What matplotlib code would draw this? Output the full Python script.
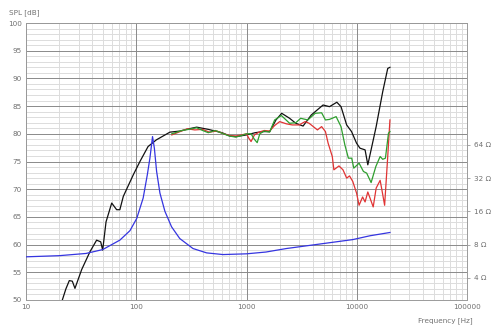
import matplotlib
matplotlib.use('Agg')
import matplotlib.pyplot as plt
from matplotlib.ticker import FixedLocator, NullFormatter, NullLocator

# ---------------- data ----------------
black_f = [20, 21.2, 23, 24.7, 26.3, 27.8, 32, 38, 43.7, 47.6, 49.6, 53.2, 59.9, 66.4, 71,
           76.3, 94, 108, 128, 152, 202, 250, 300, 353, 450, 600, 705,
           809, 1000, 1200, 1415, 1625, 1850, 2086, 2460, 2800, 3260, 3870, 4200, 4950,
           5660, 6600, 7200, 8100, 8970, 9960, 10700, 11900, 12600, 15000, 17200, 19100, 20000]
black_spl = [48.5, 49.8, 52, 53.5, 53.4, 52.1, 55.5, 58.7, 60.8, 60.5, 59.0, 64.1, 67.5, 66.3, 66.3,
             68.7, 72.6, 75.0, 77.7, 78.9, 80.3, 80.5, 80.9, 81.2, 80.8, 80.2, 79.6,
             79.5, 79.8, 80.2, 80.4, 80.4, 82.5, 83.7, 82.8, 81.9, 81.4, 83.4, 84.0, 85.2,
             84.9, 85.7, 84.9, 81.6, 80.4, 78.3, 77.4, 77.1, 74.4, 81.3, 87.6, 91.8, 92.0]

green_f = [210, 260, 300, 353, 400, 450, 520, 600, 700, 800, 900, 1000, 1100, 1180, 1250,
           1320, 1450, 1620, 1800, 2070, 2460, 2800, 3100, 3600, 4200, 4800, 5200, 5660,
           6500, 7200, 7800, 8400, 9000, 9400, 10500, 11500, 12300, 13500, 14900, 16300,
           17200, 18200, 19400, 20000]
green_spl = [80.0, 80.6, 80.8, 81.1, 80.6, 80.2, 80.6, 80.1, 79.6, 79.4, 79.7, 80.0, 80.0, 79.0, 78.4,
             80.0, 80.5, 80.3, 82.5, 83.3, 81.9, 82.0, 82.8, 82.5, 83.7, 83.8, 82.5, 82.6,
             83.1, 81.3, 78.0, 75.6, 75.6, 73.8, 74.7, 73.2, 72.9, 71.2, 74.1, 75.9,
             75.4, 75.6, 80.1, 80.4]

red_f = [210, 250, 290, 340, 400, 460, 540, 620, 700, 800, 900, 1000, 1050, 1100, 1180,
         1300, 1450, 1620, 1800, 2000, 2300, 2600, 3000, 3400, 3700, 4400, 4800, 5200,
         5500, 6000, 6200, 6900, 7500, 8100, 8600, 9200, 9960, 10500, 11300, 11900,
         12600, 14100, 15000, 16300, 16900, 17900, 19100, 20000]
red_spl = [79.8, 80.4, 80.9, 80.7, 80.8, 80.3, 80.5, 80.0, 79.7, 79.6, 79.8, 80.0, 79.2, 78.6, 79.8,
           80.3, 80.6, 80.5, 81.5, 82.2, 81.8, 81.6, 81.6, 82.2, 81.9, 80.7, 81.3, 80.4,
           78.3, 75.9, 73.5, 74.2, 73.5, 72.0, 72.4, 71.4, 69.3, 67.1, 68.6, 67.7,
           69.5, 66.8, 70.2, 71.6, 69.9, 67.1, 75.9, 82.5]

imp_f = [10, 20, 35, 49.6, 71, 87.7, 101, 115.5, 126, 133, 140.5, 146, 153, 164, 182,
         209, 248, 327, 435, 611, 1000, 1500, 2300, 4600, 9200, 13200, 20000]
imp_ohm = [6.2, 6.35, 6.65, 7.21, 8.78, 10.7, 13.8, 21.1, 34.3, 48.5, 76.1, 59.7, 36.8, 23.4, 16.0,
           11.6, 9.08, 7.37, 6.73, 6.5, 6.6, 6.85, 7.37, 8.09, 8.88, 9.62, 10.3]

x_ticks = [10, 100, 1000, 10000, 100000]
x_labels = ['10', '100', '1000', '10000', '100000']
y_ticks = [50, 55, 60, 65, 70, 75, 80, 85, 90, 95, 100]
z_ticks = [4, 8, 16, 32, 64]
z_labels = ['4 Ω', '8 Ω', '16 Ω', '32 Ω', '64 Ω']

# ---------------- plot ----------------
TXT = '#707070'
plt.rcParams['font.family'] = ['DejaVu Sans']
plt.rcParams['font.size'] = 5.2

fig = plt.figure(figsize=(5.0, 3.32), dpi=100)
ax = fig.add_axes([0.052, 0.0964, 0.882, 0.8343])
ax.set_xscale('log')
ax.set_xlim(10, 100000)
ax.set_ylim(50, 100)

# grid
minor_x = [m * 10 ** e for e in range(1, 5) for m in range(2, 10)]
for f in minor_x:
    ax.axvline(f, color='#dcdcdc', lw=0.7, zorder=0)
for f in x_ticks:
    ax.axvline(f, color='#8a8a8a', lw=0.7, zorder=0.5)
for v in range(50, 101):
    if v % 5:
        ax.axhline(v, color='#dcdcdc', lw=0.7, zorder=0)
for v in y_ticks:
    ax.axhline(v, color='#8a8a8a', lw=0.7, zorder=0.5)

for s in ax.spines.values():
    s.set_color('#9a9a9a')
    s.set_linewidth(0.7)

ax.xaxis.set_major_locator(FixedLocator(x_ticks))
ax.set_xticklabels(x_labels)
ax.xaxis.set_minor_locator(NullLocator())
ax.xaxis.set_minor_formatter(NullFormatter())
ax.set_yticks(y_ticks)
ax.tick_params(axis='both', length=0, colors=TXT, labelsize=5.2, pad=3)

ax.plot(black_f, black_spl, color='#111111', lw=0.9, zorder=3)
ax.plot(green_f, green_spl, color='#2e9e2e', lw=0.9, zorder=4)
ax.plot(red_f, red_spl, color='#e03434', lw=0.9, zorder=3.5)

# impedance on right axis (log2, 6 dB per octave on the SPL grid)
az = ax.twinx()
az.set_yscale('log', base=2)
az.set_ylim(8 * 2 ** (-10 / 6), 8 * 2 ** (40 / 6))
az.plot(imp_f, imp_ohm, color='#3535e0', lw=0.9, zorder=3)
az.yaxis.set_major_locator(FixedLocator(z_ticks))
az.set_yticklabels(z_labels)
az.yaxis.set_minor_locator(NullLocator())
az.tick_params(axis='y', length=2, width=0.6, color='#9a9a9a', colors=TXT, labelsize=5.2, pad=3)
for s in az.spines.values():
    s.set_visible(False)

fig.text(0.018, 0.962, 'SPL [dB]', color=TXT, fontsize=5.2, ha='left', va='center')
fig.text(0.945, 0.035, 'Frequency [Hz]', color=TXT, fontsize=5.2, ha='right', va='center')

plt.savefig('out.png', dpi=100)
plt.close()
